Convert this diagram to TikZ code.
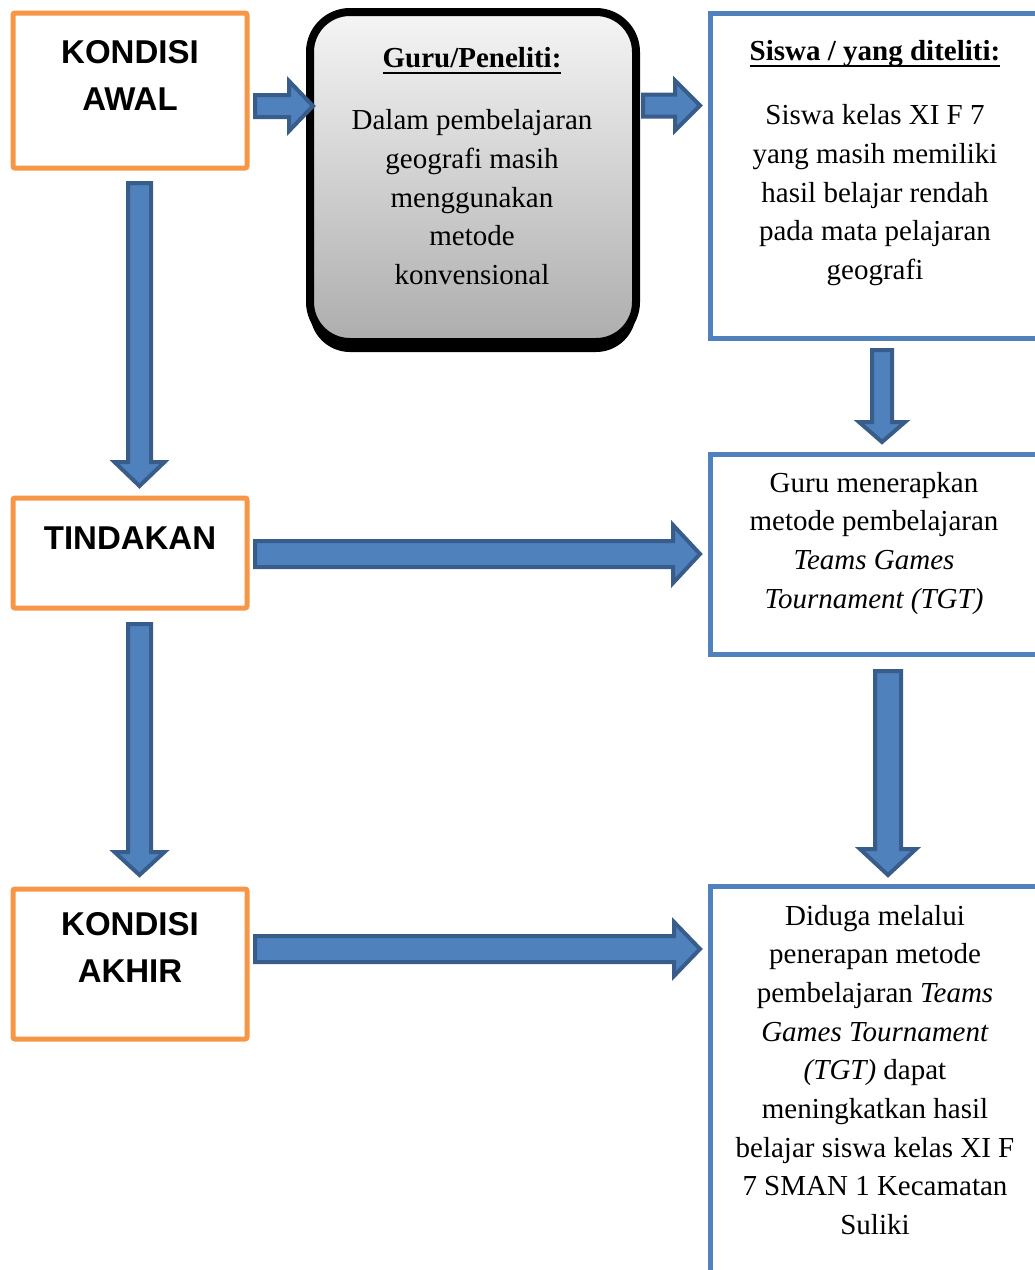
\documentclass[tikz,border=0pt]{standalone}
\usepackage{fontspec}
\setmainfont{Liberation Serif}
\newfontfamily\hsans{Liberation Sans}
\usetikzlibrary{calc,shadows}
\definecolor{orangeb}{HTML}{F79646}
\definecolor{blueb}{HTML}{4F81BD}
\definecolor{arrfill}{HTML}{4F81BD}
\definecolor{arredge}{HTML}{385D8A}
\newcommand\ulx[1]{\setbox0=\hbox{#1}\rlap{\rule[-6.5pt]{\wd0}{1.8pt}}\box0}
\newcommand\arrowRight[5]{%
  \draw[blockarrow] let \p1=(#1), \p2=(#2) in
  (\x1,\y1+#3pt) -- (\x2-#5pt,\y1+#3pt) -- (\x2-#5pt,\y2+#4pt) -- (\x2,\y2)
  -- (\x2-#5pt,\y2-#4pt) -- (\x2-#5pt,\y1-#3pt) -- (\x1,\y1-#3pt) -- cycle;}
\newcommand\arrowDown[5]{%
  \draw[blockarrow] let \p1=(#1), \p2=(#2) in
  (\x1-#3pt,\y1) -- (\x1+#3pt,\y1) -- (\x1+#3pt,\y2+#5pt) -- (\x1+#4pt,\y2+#5pt)
  -- (\x1,\y2) -- (\x1-#4pt,\y2+#5pt) -- (\x1-#3pt,\y2+#5pt) -- cycle;}
\tikzset{
  condbox/.style={draw=orangeb, line width=5pt, rounded corners=2pt, fill=white,
    minimum width=234pt, inner sep=0pt},
  bluebox/.style={draw=blueb, line width=5pt, fill=white, minimum width=334.5pt, inner sep=0pt},
  gurubox/.style={draw=black, line width=8pt, rounded corners=40pt,
    top color=black!4, bottom color=black!32, minimum width=326pt, minimum height=330pt,
    inner sep=0pt, drop shadow={shadow xshift=0pt, shadow yshift=-10pt, opacity=1, fill=black}},
  blockarrow/.style={fill=arrfill, draw=arredge, line width=4pt, line join=miter},
  condtext/.style={anchor=base, inner sep=0pt, font=\hsans\bfseries\fontsize{33}{47.5}\selectfont},
  bodytext/.style={anchor=base, inner sep=0pt, font=\fontsize{29}{38.7}\selectfont},
}
\begin{document}
\begin{tikzpicture}[x=1pt,y=-1pt]
\useasboundingbox (0,0) rectangle (1035,1270);
\clip (0,0) rectangle (1035,1270);
\fill[white] (0,0) rectangle (1035,1270);

% boxes
\node[condbox, minimum height=155pt] (awal) at (130,90.5) {};
\node[condbox, minimum height=110pt] (tind) at (130,553) {};
\node[condbox, minimum height=150pt] (akhir) at (130,964) {};
\node[gurubox] (guru) at (473,177) {};
\node[bluebox, minimum height=325pt] (siswa) at (877.75,175.5) {};
\node[bluebox, minimum height=200pt] (g2) at (877.75,554.5) {};
\node[bluebox, minimum height=414pt] (g3) at (877.75,1093) {};

% texts
\node[condtext] (awalt) at (130,63) {\parbox[t]{220pt}{\centering KONDISI\\AWAL}};
\node[condtext] (tindt) at (130,549) {\parbox[t]{220pt}{\centering TINDAKAN}};
\node[condtext] (akhirt) at (130,935) {\parbox[t]{220pt}{\centering KONDISI\\AKHIR}};
\node[bodytext] (gurut) at (472,67) {\parbox[t]{310pt}{\centering
  \textbf{\ulx{Guru/Peneliti:}}\\[24pt]
  Dalam pembelajaran\\geografi masih\\menggunakan\\metode\\konvensional}};
\node[bodytext] (siswat) at (875,60) {\parbox[t]{320pt}{\centering
  \textbf{\ulx{Siswa / yang diteliti:}}\\[26pt]
  Siswa kelas XI F 7\\yang masih memiliki\\hasil belajar rendah\\pada mata pelajaran\\geografi}};
\node[bodytext] (g2t) at (874,492) {\parbox[t]{320pt}{\centering
  Guru menerapkan\\metode pembelajaran\\\textit{Teams Games}\\\textit{Tournament (TGT)}}};
\node[bodytext] (g3t) at (875,925) {\parbox[t]{320pt}{\centering
  Diduga melalui\\penerapan metode\\pembelajaran \textit{Teams}\\\textit{Games Tournament}\\\textit{(TGT)} dapat\\meningkatkan hasil\\belajar siswa kelas XI F\\7 SMAN 1 Kecamatan\\Suliki}};

% connector end points
\coordinate (a1s) at ($(awal.east |- 0,106)+(5.5,0)$);
\coordinate (a1t) at ($(guru.west |- 0,106)+(7,0)$);
\coordinate (a2s) at ($(guru.east |- 0,105.5)+(3,0)$);
\coordinate (a2t) at ($(siswa.west |- 0,105.5)+(-8,0)$);
\coordinate (a3s) at ($(awal.south -| 139.5,0)+(0,12.5)$);
\coordinate (a3t) at ($(tind.north -| 139.5,0)+(0,-9.5)$);
\coordinate (a4s) at ($(siswa.south -| 882,0)+(0,9.5)$);
\coordinate (a4t) at ($(g2.north -| 882,0)+(0,-10)$);
\coordinate (a5s) at ($(tind.east |- 0,554)+(5.5,0)$);
\coordinate (a5t) at ($(g2.west |- 0,554)+(-8,0)$);
\coordinate (a6s) at ($(tind.south -| 139.5,0)+(0,13.5)$);
\coordinate (a6t) at ($(akhir.north -| 139.5,0)+(0,-11.5)$);
\coordinate (a7s) at ($(g2.south -| 888,0)+(0,14)$);
\coordinate (a7t) at ($(g3.north -| 888,0)+(0,-8.5)$);
\coordinate (a8s) at ($(akhir.east |- 0,949)+(5.5,0)$);
\coordinate (a8t) at ($(g3.west |- 0,949)+(-8,0)$);

% block arrows
\arrowRight{a1s}{a1t}{11}{25}{24}
\arrowRight{a2s}{a2t}{11}{25}{25}
\arrowDown{a3s}{a3t}{11.5}{25}{24}
\arrowDown{a4s}{a4t}{10}{23}{20}
\arrowRight{a5s}{a5t}{13}{29}{27}
\arrowDown{a6s}{a6t}{11.5}{25}{23}
\arrowDown{a7s}{a7t}{13}{28}{26}
\arrowRight{a8s}{a8t}{13}{27}{26}
\end{tikzpicture}
\end{document}
